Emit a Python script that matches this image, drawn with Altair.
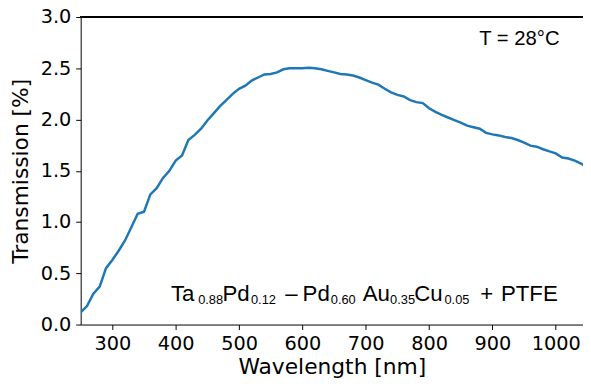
import altair as alt
import pandas as pd

# ---- data ----
wavelength = [250, 260, 270, 280, 290, 300, 310, 320, 330, 340, 350, 360, 370, 380, 390,
              400, 410, 420, 430, 440, 450, 460, 470, 480, 490, 500, 510, 520, 530, 540,
              550, 560, 570, 580, 590, 600, 610, 620, 630, 640, 650, 660, 670, 680, 690,
              700, 710, 720, 730, 740, 750, 760, 770, 780, 790, 800, 810, 820, 830, 840,
              850, 860, 870, 880, 890, 900, 910, 920, 930, 940, 950, 960, 970, 980, 990,
              1000, 1010, 1020, 1030, 1040, 1050]
transmission = [0.12, 0.18, 0.30, 0.37, 0.55, 0.63, 0.72, 0.82, 0.95, 1.08, 1.10, 1.27, 1.33, 1.43, 1.50,
                1.60, 1.65, 1.80, 1.85, 1.91, 1.99, 2.06, 2.13, 2.19, 2.25, 2.30, 2.33, 2.38, 2.41, 2.44,
                2.445, 2.46, 2.49, 2.50, 2.50, 2.50, 2.505, 2.50, 2.49, 2.475, 2.46, 2.445, 2.44, 2.43, 2.41,
                2.385, 2.36, 2.34, 2.30, 2.265, 2.24, 2.225, 2.19, 2.17, 2.16, 2.11, 2.075, 2.045, 2.02, 1.995,
                1.97, 1.94, 1.925, 1.91, 1.87, 1.855, 1.845, 1.83, 1.82, 1.80, 1.775, 1.745, 1.735, 1.71, 1.69,
                1.67, 1.63, 1.62, 1.60, 1.57, 1.54]

x_ticks = [300, 400, 500, 600, 700, 800, 900, 1000]
y_ticks = [0.0, 0.5, 1.0, 1.5, 2.0, 2.5, 3.0]

temp_label = "T = 28°C"
formula_text = ["Ta", "0.88", "Pd", "0.12", "–", "Pd", "0.60", "Au", "0.35", "Cu", "0.05", "+", "PTFE"]
formula_sub = [False, True, False, True, False, False, True, False, True, False, True, False, False]

# ---- layout (pixels) ----
W, H = 508, 311
PAD_L, PAD_T, PAD_B = 73.5, 7, 58
X_MAX = 250 + W / 0.6406
AX_FONT = "DejaVu Sans"
MAIN_SIZE, SUB_SIZE = 22.5, 13
formula_x = [91.3, 118.8, 143.4, 172.2, 206.8, 224.4, 252.9, 285.2, 312.9, 337.4, 367.9, 404.1, 425.0]
MAIN_BASE, SUB_BASE = 287.0, 290.5

df = pd.DataFrame({"wavelength": wavelength, "transmission": transmission})

line = alt.Chart(df).mark_line(color="#1f77b4", strokeWidth=2.5, clip=True).encode(
    x=alt.X("wavelength:Q", scale=alt.Scale(domain=[250, X_MAX], nice=False, zero=False),
            axis=alt.Axis(values=x_ticks, title="Wavelength [nm]", format="d",
                          grid=False, tickSize=5, labelPadding=5, titlePadding=4)),
    y=alt.Y("transmission:Q", scale=alt.Scale(domain=[0, 3.0], nice=False),
            axis=alt.Axis(values=y_ticks, title="Transmission [%]", format=".1f",
                          grid=False, tickSize=5, labelPadding=5, titlePadding=8)),
)

top_rule = alt.Chart(df).mark_rule(color="black", strokeWidth=1).encode(
    x=alt.value(0), x2=alt.value(W), y=alt.value(0)
)

temp = alt.Chart(pd.DataFrame({"t": [temp_label]})).mark_text(
    align="left", baseline="alphabetic", font="Liberation Sans", fontSize=20.5, color="black"
).encode(x=alt.value(403), y=alt.value(28.3), text="t:N")

fdf = pd.DataFrame({
    "txt": formula_text,
    "px": formula_x,
    "py": [SUB_BASE if s else MAIN_BASE for s in formula_sub],
    "fs": [SUB_SIZE if s else MAIN_SIZE for s in formula_sub],
})
formula = alt.Chart(fdf).mark_text(
    align="left", baseline="alphabetic", font="Liberation Sans", color="black"
).encode(
    x=alt.X("px:Q", scale=None, axis=None),
    y=alt.Y("py:Q", scale=None, axis=None),
    size=alt.Size("fs:Q", scale=None, legend=None),
    text="txt:N",
)

chart = alt.layer(line, top_rule, temp, formula).resolve_scale(
    x="independent", y="independent"
).properties(
    width=W, height=H,
    autosize=alt.AutoSizeParams(type="none"),
    padding={"left": PAD_L, "top": PAD_T, "right": 0, "bottom": PAD_B},
).configure_view(stroke=None).configure_axis(
    labelFont=AX_FONT, titleFont=AX_FONT,
    labelFontSize=19.5, titleFontSize=22, titleFontWeight="normal",
    labelColor="black", titleColor="black",
    domainColor="black", tickColor="black", domainWidth=1, tickWidth=1,
)

chart.save("out.html", embed_options={"renderer": "svg", "actions": False})
